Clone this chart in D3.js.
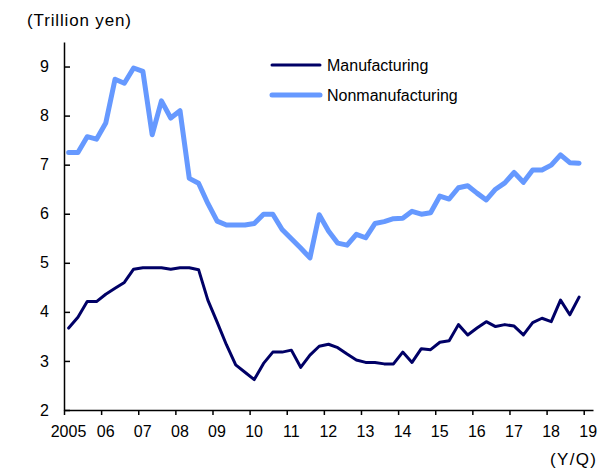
<!DOCTYPE html>
<html>
<head>
<meta charset="utf-8">
<script src="https://cdn.jsdelivr.net/npm/d3@7"></script>
<style>
  body { margin: 0; background: #fff; }
  svg { display: block; font-family: "Liberation Sans", Arial, sans-serif; }
</style>
</head>
<body>
<svg width="614" height="470"></svg>
<script>
// quarterly data, 2005Q1 .. 2018Q4
var years = d3.range(2005, 2019);
var quarters = [];
years.forEach(function (yr) {
    [1, 2, 3, 4].forEach(function (q) { quarters.push({ year: yr, q: q }); });
});

var manufacturing = [
    3.67, 3.89, 4.21, 4.21, 4.36, 4.48, 4.60, 4.87,
    4.90, 4.90, 4.90, 4.87, 4.90, 4.90, 4.86, 4.24,
    3.79, 3.33, 2.92, 2.77, 2.62, 2.95, 3.18, 3.18,
    3.22, 2.87, 3.12, 3.30, 3.34, 3.27, 3.14, 3.02,
    2.97, 2.97, 2.94, 2.94, 3.18, 2.97, 3.25, 3.23,
    3.38, 3.41, 3.74, 3.53, 3.67, 3.80, 3.70, 3.74,
    3.71, 3.53, 3.78, 3.87, 3.80, 4.24, 3.94, 4.30
];

var nonmanufacturing = [
    7.25, 7.25, 7.57, 7.52, 7.85, 8.74, 8.66, 8.97,
    8.90, 7.61, 8.30, 7.95, 8.10, 6.72, 6.62, 6.21,
    5.85, 5.77, 5.77, 5.77, 5.80, 5.99, 5.99, 5.68,
    5.49, 5.30, 5.10, 5.98, 5.65, 5.40, 5.36, 5.58,
    5.51, 5.80, 5.84, 5.90, 5.91, 6.05, 5.99, 6.02,
    6.36, 6.30, 6.53, 6.57, 6.42, 6.28, 6.50, 6.63,
    6.84, 6.64, 6.89, 6.89, 6.99, 7.20, 7.04, 7.03
];

var yTicks = [2, 3, 4, 5, 6, 7, 8, 9];
var xTicks = d3.range(2005, 2020);

var series = [
    { name: "Manufacturing", values: manufacturing, color: "#000066", width: 3 },
    { name: "Nonmanufacturing", values: nonmanufacturing, color: "#6699ff", width: 5 }
];

var svg = d3.select("svg");

var x = d3.scaleLinear().domain([2005, 2019.25]).range([64, 593]);
var y = d3.scaleLinear().domain([2, 9.5]).range([410, 42]);

// position of a quarter = middle of that quarter
function qx(d) { return x(d.year + (d.q - 0.5) / 4); }

// y axis, ticks pointing inward
var yAxis = svg.append("g")
    .attr("transform", "translate(64,0)")
    .call(d3.axisLeft(y).tickValues(yTicks).tickSize(-6).tickSizeOuter(0).tickPadding(15));

// x axis, ticks pointing down
var xAxis = svg.append("g")
    .attr("transform", "translate(0,410)")
    .call(d3.axisBottom(x).tickValues(xTicks).tickSize(5).tickSizeOuter(0).tickPadding(11)
        .tickFormat(function (d) { return d == 2005 ? "2005" : String(d % 100).padStart(2, "0"); }));

xAxis.selectAll("text").attr("dx", 4);

[xAxis, yAxis].forEach(function (g) {
    g.selectAll("path, line").attr("stroke", "#000").attr("stroke-width", 1.5);
    g.selectAll("text").attr("fill", "#000").style("font-size", "16px")
        .style("font-family", "'Liberation Sans', Arial, sans-serif");
});

var line = d3.line()
    .x(function (d, i) { return qx(quarters[i]); })
    .y(function (d) { return y(d); });

// draw nonmanufacturing first so manufacturing sits above
series.slice().reverse().forEach(function (s) {
    svg.append("path")
        .datum(s.values)
        .attr("d", line)
        .attr("fill", "none")
        .attr("stroke", s.color)
        .attr("stroke-width", s.width)
        .attr("stroke-linejoin", "round")
        .attr("stroke-linecap", "round");
});

// legend
var legend = svg.append("g").attr("transform", "translate(272,65)");
series.forEach(function (s, i) {
    var row = legend.append("g").attr("transform", "translate(0," + (i * 30) + ")");
    row.append("line")
        .attr("x1", 0).attr("x2", 48)
        .attr("stroke", s.color)
        .attr("stroke-width", s.width)
        .attr("stroke-linecap", "round");
    row.append("text")
        .attr("x", 55).attr("y", 0).attr("dy", "0.35em")
        .style("font-size", "16px")
        .text(s.name);
});

svg.append("text")
    .attr("x", 27).attr("y", 26)
    .style("font-size", "17px")
    .attr("textLength", 104).attr("lengthAdjust", "spacing")
    .text("(Trillion yen)");

svg.append("text")
    .attr("x", 550).attr("y", 465)
    .style("font-size", "17px")
    .attr("textLength", 46).attr("lengthAdjust", "spacing")
    .text("(Y/Q)");
</script>
</body>
</html>
